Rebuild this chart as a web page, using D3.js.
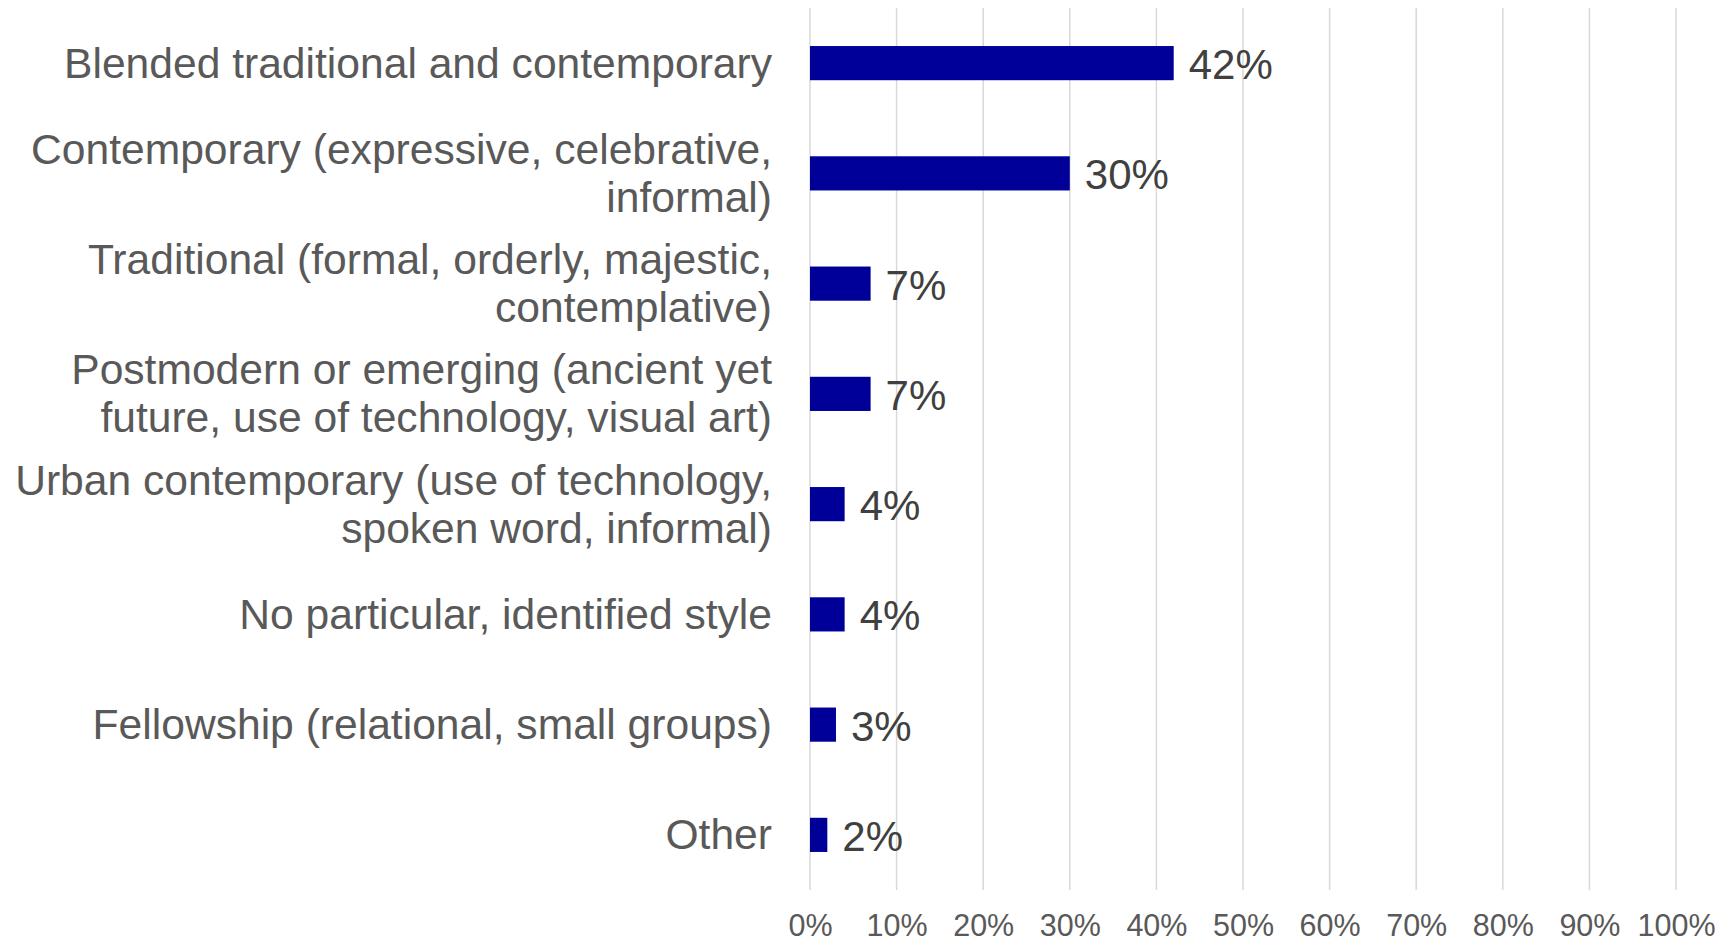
<!DOCTYPE html>
<html>
<head>
<meta charset="utf-8">
<script src="https://cdn.jsdelivr.net/npm/d3@7"></script>
<style>
  body { margin: 0; background: #fff; }
  text { font-family: "Liberation Sans", Arial, sans-serif; }
</style>
</head>
<body>
<div id="chart"></div>
<script>
// categories, each split into the lines it is drawn on
const categories = [
    ["Blended traditional and contemporary"],
    ["Contemporary (expressive, celebrative,", "informal)"],
    ["Traditional (formal, orderly, majestic,", "contemplative)"],
    ["Postmodern or emerging (ancient yet", "future, use of technology, visual art)"],
    ["Urban contemporary (use of technology,", "spoken word, informal)"],
    ["No particular, identified style"],
    ["Fellowship (relational, small groups)"],
    ["Other"]
];
const values = [42, 30, 7, 7, 4, 4, 3, 2];
const ticks = [0, 10, 20, 30, 40, 50, 60, 70, 80, 90, 100];

const W = 1734, H = 942;
const margin = { top: 8, right: 58, bottom: 52, left: 810 };
const width = W - margin.left - margin.right;
const height = H - margin.top - margin.bottom;

const svg = d3.select("#chart")
    .append("svg")
    .attr("width", W)
    .attr("height", H)
    .append("g")
    .attr("transform", `translate(${margin.left},${margin.top})`);

const x = d3.scaleLinear()
    .domain([0, 100])
    .range([0, width]);

const y = d3.scaleBand()
    .domain(d3.range(categories.length))
    .range([0, height])
    .paddingInner(0.69)
    .paddingOuter(0.345);

// vertical gridlines
svg.selectAll(".grid")
    .data(ticks)
    .join("line")
    .attr("class", "grid")
    .attr("x1", d => x(d))
    .attr("x2", d => x(d))
    .attr("y1", 0)
    .attr("y2", height)
    .attr("stroke", "#d9d9d9")
    .attr("stroke-width", 1.5);

// bottom tick labels
const xAxis = svg.append("g")
    .attr("transform", `translate(0, ${height})`)
    .call(d3.axisBottom(x).tickValues(ticks).tickFormat(d => d + "%").tickSize(0).tickPadding(0));
xAxis.select(".domain").remove();
xAxis.selectAll("text")
    .attr("y", 46)
    .attr("dy", null)
    .style("font-size", "30.5px")
    .attr("fill", "#595959");

// bars
svg.selectAll(".bar")
    .data(values)
    .join("rect")
    .attr("class", "bar")
    .attr("x", 0)
    .attr("y", (d, i) => y(i))
    .attr("width", d => x(d))
    .attr("height", y.bandwidth())
    .attr("fill", "#000099");

// value labels
svg.selectAll(".val")
    .data(values)
    .join("text")
    .attr("class", "val")
    .attr("x", d => x(d) + 15)
    .attr("y", (d, i) => y(i) + y.bandwidth() / 2 + 16)
    .style("font-size", "42px")
    .attr("fill", "#404040")
    .text(d => d + "%");

// category labels, right aligned
const lineH = 48;
const cats = svg.selectAll(".cat")
    .data(categories)
    .join("text")
    .attr("class", "cat")
    .attr("text-anchor", "end")
    .style("font-size", "42.6px")
    .attr("fill", "#595959");

cats.each(function(lines, i) {
    const cy = y(i) + y.bandwidth() / 2;
    const top = cy - (lines.length - 1) * lineH / 2;
    d3.select(this).selectAll("tspan")
        .data(lines)
        .join("tspan")
        .attr("x", -38)
        .attr("y", (d, j) => top + j * lineH + 14.5)
        .text(d => d);
});
</script>
</body>
</html>
